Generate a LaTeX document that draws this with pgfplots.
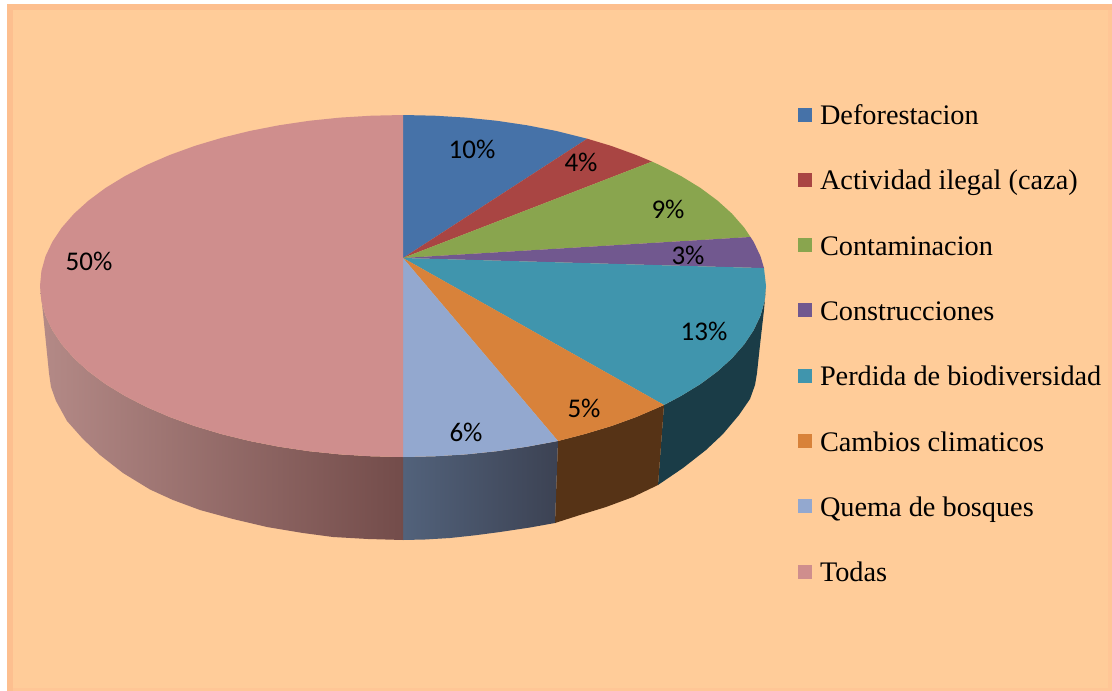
\documentclass[border=0pt]{standalone}
\usepackage{fontspec}
\setmainfont{Liberation Serif}
\newfontfamily\pctfont{Carlito}
\usepackage{pgfplots}
\pgfplotsset{compat=1.18}
\definecolor{bg}{HTML}{FFCC99}
\definecolor{frameA}{HTML}{FDBF8F}
\definecolor{frameB}{HTML}{FFC696}
\definecolor{cBlue}{HTML}{4672A8}
\definecolor{cRed}{HTML}{A94543}
\definecolor{cGreen}{HTML}{89A54E}
\definecolor{cPurple}{HTML}{71588F}
\definecolor{cTeal}{HTML}{4095AD}
\definecolor{cOrange}{HTML}{D8823A}
\definecolor{cLight}{HTML}{93A8CF}
\definecolor{cPink}{HTML}{CF8E8D}
\definecolor{sTeal}{HTML}{1A3C47}
\definecolor{sOrange}{HTML}{563316}
\definecolor{sLightL}{HTML}{52627B}
\definecolor{sLightR}{HTML}{3C4253}
\definecolor{sPinkL}{HTML}{B48A87}
\definecolor{sPinkR}{HTML}{734C4A}
\begin{document}
\begin{tikzpicture}
\begin{axis}[
  scale only axis, width=1112pt, height=691pt,
  xmin=0, xmax=1112, ymin=0, ymax=691, y dir=reverse,
  hide axis, clip=true,
  legend cell align=left,
  legend image code/.code={\fill[#1] (0pt,-4pt) rectangle (14pt,10pt);},
  legend style={
    at={(axis cs:798,104.5)}, anchor=north west, draw=none, fill=none,
    inner sep=0pt, outer sep=0pt,
    font=\fontsize{28.3}{28.3}\selectfont,
    row sep=39.3pt, column sep=2.5pt,
    nodes={text height=20pt,text depth=6pt,inner xsep=5.5pt,inner ysep=0pt},
  },
]
\fill[white] (axis cs:0,0) rectangle (axis cs:1112,691);
\fill[frameA] (axis cs:7,4) rectangle (axis cs:1112,691);
\fill[frameB] (axis cs:13,10) rectangle (axis cs:1112,691);
\fill[bg] (axis cs:13,10) rectangle (axis cs:1108,688);

% side walls
\addplot[forget plot, draw=none, fill=sTeal] coordinates {(766,286)(764.6,300.9)(760.5,315.7)(753.6,330.3)(744.1,344.5)(732,358.3)(717.4,371.5)(700.4,384.1)(681.1,395.9)(664,405)(658,485)(683,468)(706,450)(723,434)(739,415)(750,399)(755,385)(757,373)(760,345)(764,310)} -- cycle;
\addplot[forget plot, draw=none, fill=sOrange] coordinates {(664,405)(659.7,406.9)(636.3,417)(611.2,426.1)(584.5,434.1)(558,441)(555,523)(580,515)(606,507)(633,497)(658,485)} -- cycle;
\addplot[forget plot, draw=none, left color=sLightL, right color=sLightR] coordinates {(403,457)(434.6,456.3)(466,454.4)(497,451.2)(527.2,446.7)(558,441)(555,523)(530,527.5)(500,532)(475,535.3)(450,538)(425,539.5)(403,540)} -- cycle;
\addplot[forget plot, draw=none, left color=sPinkL, right color=sPinkR] coordinates {(40,286)(41.4,300.9)(45.5,315.7)(52.4,330.3)(61.9,344.5)(74,358.3)(88.6,371.5)(105.6,384.1)(124.9,395.9)(146.3,406.9)(169.7,417)(194.8,426.1)(221.5,434.1)(249.6,441)(278.8,446.7)(309,451.2)(340,454.4)(371.4,456.3)(403,457)(403,540)(368,539)(333,537)(303,533)(267,527)(233,519)(200,510)(173,500)(150,489.5)(123,473)(100,455)(83,439)(67,421)(56,401)(51,387)(49,373)(43,313)} -- cycle;

% top faces
\addplot[draw=none, fill=cBlue] coordinates {(403,258)(403,115)(434.6,115.7)(466,117.6)(497,120.8)(527.2,125.3)(556.4,131)(587.2,138.7)} -- cycle;
\addlegendentry{Deforestacion}
\addplot[draw=none, fill=cRed] coordinates {(403,258)(587.2,138.7)(611.2,145.9)(636.3,155)(652,161.6)} -- cycle;
\addlegendentry{Actividad ilegal (caza)}
\addplot[draw=none, fill=cGreen] coordinates {(403,258)(652,161.6)(659.7,165.1)(681.1,176.1)(700.4,187.9)(717.4,200.5)(732,213.7)(744.1,227.5)(750.5,237)} -- cycle;
\addlegendentry{Contaminacion}
\addplot[draw=none, fill=cPurple] coordinates {(403,258)(750.5,237)(753.6,241.7)(760.5,256.3)(764,268.1)} -- cycle;
\addlegendentry{Construcciones}
\addplot[draw=none, fill=cTeal] coordinates {(403,258)(764,268.1)(766,286)(764.6,300.9)(760.5,315.7)(753.6,330.3)(744.1,344.5)(732,358.3)(717.4,371.5)(700.4,384.1)(681.1,395.9)(664,405)} -- cycle;
\addlegendentry{Perdida de biodiversidad}
\addplot[draw=none, fill=cOrange] coordinates {(403,258)(664,405)(659.7,406.9)(636.3,417)(611.2,426.1)(584.5,434.1)(558,441)} -- cycle;
\addlegendentry{Cambios climaticos}
\addplot[draw=none, fill=cLight] coordinates {(403,258)(558,441)(527.2,446.7)(497,451.2)(466,454.4)(434.6,456.3)(403,457)} -- cycle;
\addlegendentry{Quema de bosques}
\addplot[draw=none, fill=cPink] coordinates {(403,258)(403,457)(371.4,456.3)(340,454.4)(309,451.2)(278.8,446.7)(249.6,441)(221.5,434.1)(194.8,426.1)(169.7,417)(146.3,406.9)(124.9,395.9)(105.6,384.1)(88.6,371.5)(74,358.3)(61.9,344.5)(52.4,330.3)(45.5,315.7)(41.4,300.9)(40,286)(41.4,271.1)(45.5,256.3)(52.4,241.7)(61.9,227.5)(74,213.7)(88.6,200.5)(105.6,187.9)(124.9,176.1)(146.3,165.1)(169.7,155)(194.8,145.9)(221.5,137.9)(249.6,131)(278.8,125.3)(309,120.8)(340,117.6)(371.4,115.7)(403,115)} -- cycle;
\addlegendentry{Todas}

% percentage labels
\begin{scope}[every node/.style={font=\pctfont\fontsize{27}{27}\selectfont, text=black, inner sep=0pt}]
\node at (axis cs:472,149) {10\%};
\node at (axis cs:581,162) {4\%};
\node at (axis cs:668,209) {9\%};
\node at (axis cs:688,255) {3\%};
\node at (axis cs:704,331) {13\%};
\node at (axis cs:584,408) {5\%};
\node at (axis cs:466,432) {6\%};
\node at (axis cs:89,261) {50\%};
\end{scope}
\end{axis}
\end{tikzpicture}
\end{document}
